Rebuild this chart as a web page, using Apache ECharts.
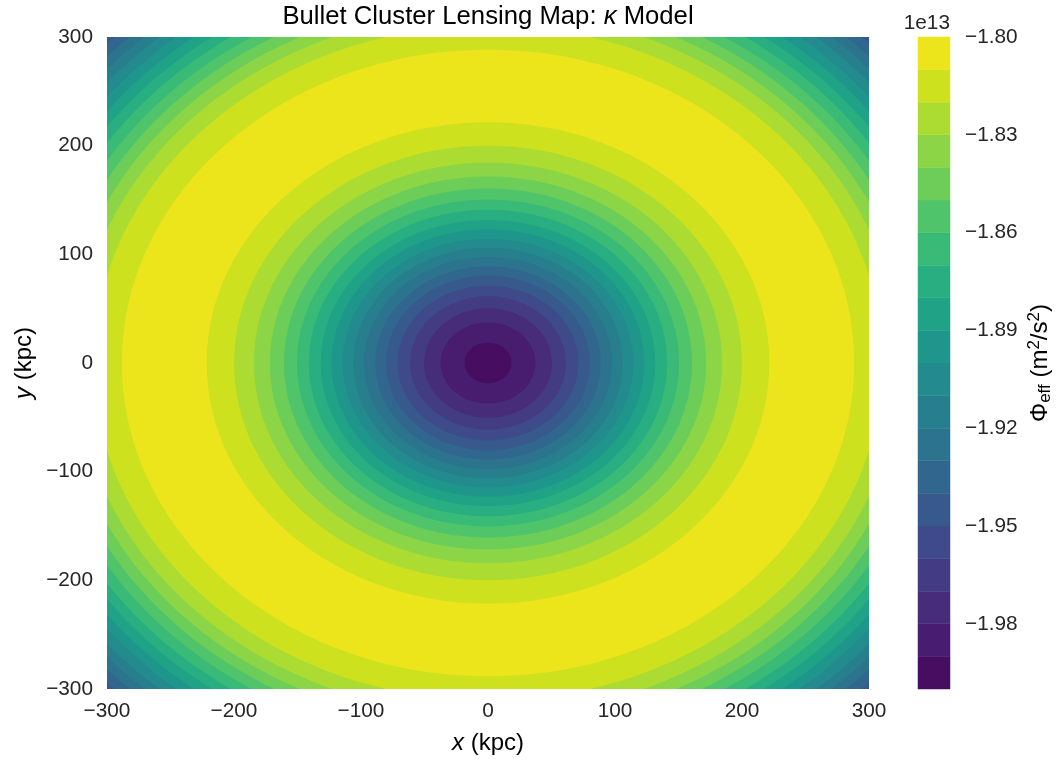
<!DOCTYPE html>
<html>
<head>
<meta charset="utf-8">
<script src="https://cdn.jsdelivr.net/npm/echarts@6/dist/echarts.min.js"></script>
<style>
html,body{margin:0;padding:0;background:#fff;}
#chart{width:1057px;height:763px;}
</style>
</head>
<body>
<div id="chart"></div>
<script>
// ---- data ----
// contour levels (units of 1e13 m^2/s^2)
const levels = [-2.00,-1.99,-1.98,-1.97,-1.96,-1.95,-1.94,-1.93,-1.92,-1.91,-1.90,
                -1.89,-1.88,-1.87,-1.86,-1.85,-1.84,-1.83,-1.82,-1.81,-1.80];
// filled band colours (viridis), band i spans levels[i]..levels[i+1]
const bandColors = ['#470d60','#481c6e','#472c7a','#433c83','#3e4a89','#37598c','#31668e',
                    '#2c738e','#277f8e','#238a8d','#1f968b','#20a286','#28ae80','#39ba77',
                    '#50c46a','#6ccd59','#8bd546','#acdc31','#cee11f','#ece51b'];
// rising side of the potential: contour level -> radius (kpc)
const innerLevels = [-1.99,-1.98,-1.97,-1.96,-1.95,-1.94,-1.93,-1.92,-1.91,-1.90,
                     -1.89,-1.88,-1.87,-1.86,-1.85,-1.84,-1.83,-1.82,-1.81];
const innerRadii  = [18.6,37.3,50.4,61.4,71.1,80.3,88.7,97.6,106.1,114.4,
                     123.1,131.7,141.0,150.4,160.6,171.7,184.3,200.0,221.5];
// falling side (outside the yellow ring): contour level -> radius (kpc)
const outerLevels = [-1.81,-1.82,-1.83,-1.84,-1.85,-1.86,-1.87,-1.88,-1.89,-1.90,-1.91,-1.92,-1.93,-1.94];
const outerRadii  = [288.3,310.5,324.0,334.5,344.0,353.0,362.0,370.5,379.0,387.5,396.0,404.0,412.0,420.0];
// axes
const xTicks = [-300,-200,-100,0,100,200,300];
const yTicks = [-300,-200,-100,0,100,200,300];
const colorbarTicks = [-1.98,-1.95,-1.92,-1.89,-1.86,-1.83,-1.80];

// ---- build ----
const FONT = '"Liberation Sans", Arial, sans-serif';
const TXT = '#262626';
const step = levels[1]-levels[0];
function bandOf(lv){ return Math.round((lv - levels[0]) / step); }
const minus = s => String(s).replace('-', '\u2212');

// draw order: background band, outer discs (largest first), inner discs (largest first)
const lastOuter = outerLevels[outerLevels.length-1];
const bgBand = bandOf(lastOuter) - 1;
const discs = [];
for (let k = outerRadii.length-1; k >= 0; k--) discs.push([outerRadii[k], bandOf(outerLevels[k])]);
for (let k = innerRadii.length-1; k >= 0; k--) discs.push([innerRadii[k], bandOf(innerLevels[k]) - 1]);

const cbData = [];
for (let i = 0; i < levels.length-1; i++) cbData.push([levels[i], levels[i+1], i]);

const chart = echarts.init(document.getElementById('chart'), null, {renderer:'canvas'});

const axisCommon = {
  axisLine:{show:false}, axisTick:{show:false}, splitLine:{show:false}
};

chart.setOption({
  animation:false,
  backgroundColor:'#fff',
  grid:[
    {left:107, top:37, width:762, height:652, containLabel:false},
    {left:918, top:37, width:32, height:652, containLabel:false}
  ],
  xAxis:[
    Object.assign({type:'value', gridIndex:0, min:xTicks[0], max:xTicks[xTicks.length-1], interval:100,
      axisLabel:{fontSize:20.8, color:TXT, fontFamily:FONT, margin:12, formatter:v=>minus(v)}}, axisCommon),
    {type:'value', gridIndex:1, min:0, max:1, show:false}
  ],
  yAxis:[
    Object.assign({type:'value', gridIndex:0, min:yTicks[0], max:yTicks[yTicks.length-1], interval:100,
      axisLabel:{fontSize:20.8, color:TXT, fontFamily:FONT, margin:14, formatter:v=>minus(v)}}, axisCommon),
    Object.assign({type:'value', gridIndex:1, min:levels[0], max:levels[levels.length-1], position:'right',
      axisLabel:{fontSize:20.8, color:TXT, fontFamily:FONT, margin:15, customValues:colorbarTicks,
        formatter:v=>minus(Number(v).toFixed(2))}}, axisCommon)
  ],
  graphic:[
    {type:'text', x:488, y:17, style:{
      text:'{n|Bullet Cluster Lensing Map: }{i|\u03ba}{n| Model}',
      align:'center', verticalAlign:'middle',
      rich:{n:{fontSize:25.7, fontFamily:FONT, color:TXT}, i:{fontSize:25.7, fontFamily:FONT, fontStyle:'italic', color:TXT}}
    }},
    {type:'text', x:488, y:743, style:{
      text:'{i|x}{n| (kpc)}', align:'center', verticalAlign:'middle',
      rich:{n:{fontSize:24, fontFamily:FONT, color:TXT}, i:{fontSize:24, fontFamily:FONT, fontStyle:'italic', color:TXT}}
    }},
    {type:'text', x:24, y:363, rotation:Math.PI/2, style:{
      text:'{i|y}{n| (kpc)}', align:'center', verticalAlign:'middle',
      rich:{n:{fontSize:24, fontFamily:FONT, color:TXT}, i:{fontSize:24, fontFamily:FONT, fontStyle:'italic', color:TXT}}
    }},
    {type:'text', x:950, y:23, style:{
      text:'1e13', align:'right', verticalAlign:'middle', fontSize:20.8, fontFamily:FONT, fill:TXT
    }},
    {type:'text', x:1040, y:363, rotation:Math.PI/2, style:{
      text:'{a|\u03a6}{s|eff}{a| (m}{p|2}{a|/s}{p|2}{a|)}', align:'center', verticalAlign:'middle',
      rich:{
        a:{fontSize:24, lineHeight:28, fontFamily:FONT, color:TXT, verticalAlign:'middle'},
        s:{fontSize:17, lineHeight:17, fontFamily:FONT, color:TXT, verticalAlign:'bottom'},
        p:{fontSize:17, lineHeight:17, fontFamily:FONT, color:TXT, verticalAlign:'top'}
      }
    }}
  ],
  series:[
    {
      type:'custom', xAxisIndex:0, yAxisIndex:0, silent:true, clip:true,
      data:[[xTicks[0], yTicks[yTicks.length-1], xTicks[xTicks.length-1], yTicks[0], bgBand]],
      renderItem:function(params, api){
        const p1 = api.coord([api.value(0), api.value(1)]);
        const p2 = api.coord([api.value(2), api.value(3)]);
        return {type:'rect', shape:{x:p1[0], y:p1[1], width:p2[0]-p1[0], height:p2[1]-p1[1]},
                style:{fill:bandColors[api.value(4)]}};
      }
    },
    {
      type:'custom', xAxisIndex:0, yAxisIndex:0, silent:true, clip:true,
      data:discs,
      renderItem:function(params, api){
        const r = api.value(0);
        const c = api.coord([0,0]);
        const e = api.coord([r, r]);
        const cs = params.coordSys;
        return {type:'group',
          clipPath:{type:'rect', shape:{x:cs.x, y:cs.y, width:cs.width, height:cs.height}},
          children:[{type:'ellipse', shape:{cx:c[0], cy:c[1], rx:e[0]-c[0], ry:c[1]-e[1]},
            style:{fill:bandColors[api.value(1)]}}]};
      }
    },
    {
      type:'custom', xAxisIndex:1, yAxisIndex:1, silent:true,
      data:cbData,
      renderItem:function(params, api){
        const p1 = api.coord([0, api.value(1)]);
        const p2 = api.coord([1, api.value(0)]);
        const col = bandColors[api.value(2)];
        return {type:'rect', shape:{x:p1[0], y:p1[1], width:p2[0]-p1[0], height:p2[1]-p1[1]},
                style:{fill:col, stroke:col, lineWidth:0.5}};
      }
    }
  ]
});
</script>
</body>
</html>
